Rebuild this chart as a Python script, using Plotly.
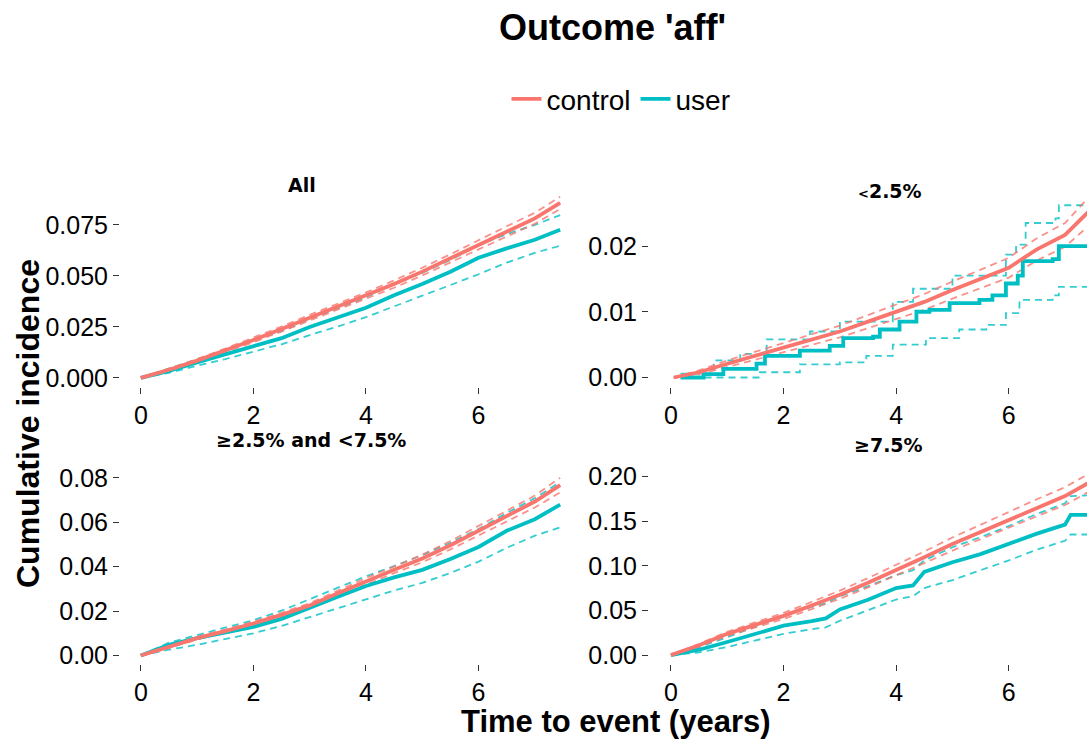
import plotly.graph_objects as go

W, H = 1087, 740

# ---------------- data ----------------
panel_titles = ["All", "<span style='font-size:13px'>&lt;</span>2.5%", "≥2.5% and &lt;7.5%", "≥7.5%"]
group_names = ["control", "user"]
x_tickvals = [0, 2, 4, 6]
x_ticktext = ["0", "2", "4", "6"]

# Panel "All"
t_all = [0, 0.5, 1, 1.5, 2, 2.5, 3, 3.5, 4, 4.5, 5, 5.5, 6, 6.5, 7, 7.45]
all_control = [0, 0.0040, 0.0085, 0.0135, 0.0186, 0.0240, 0.0295, 0.0349, 0.0403, 0.0460, 0.0521, 0.0585, 0.0653, 0.0718, 0.0782, 0.0858]
all_control_lo = [0, 0.0035, 0.0078, 0.0126, 0.0175, 0.0228, 0.0281, 0.0334, 0.0387, 0.0442, 0.0502, 0.0564, 0.0630, 0.0693, 0.0755, 0.0828]
all_control_hi = [0, 0.0045, 0.0092, 0.0144, 0.0197, 0.0252, 0.0309, 0.0364, 0.0419, 0.0478, 0.0540, 0.0606, 0.0676, 0.0743, 0.0809, 0.0888]
all_user = [0, 0.0035, 0.0076, 0.0115, 0.0156, 0.0195, 0.0250, 0.0297, 0.0344, 0.0405, 0.0460, 0.0520, 0.0589, 0.0635, 0.0677, 0.0726]
all_user_lo = [0, 0.0025, 0.0060, 0.0092, 0.0129, 0.0165, 0.0210, 0.0252, 0.0298, 0.0352, 0.0403, 0.0455, 0.0508, 0.0565, 0.0613, 0.0648]
all_user_hi = [0, 0.0045, 0.0092, 0.0138, 0.0186, 0.0228, 0.0288, 0.0341, 0.0395, 0.0460, 0.0515, 0.0578, 0.0650, 0.0705, 0.0750, 0.0798]
all_yticks = [0, 0.025, 0.05, 0.075]
all_yticktext = ["0.000", "0.025", "0.050", "0.075"]

# Panel "<2.5%"
t_lt25_control = [0.05, 0.5, 1, 1.5, 2, 2.5, 3, 3.5, 4, 4.5, 5, 5.5, 6, 6.5, 7, 7.45]
lt25_control = [0, 0.0008, 0.0021, 0.0033, 0.0046, 0.0058, 0.0070, 0.0085, 0.0100, 0.0115, 0.0133, 0.0150, 0.0167, 0.0195, 0.0217, 0.0255]
lt25_control_lo = [0, 0.0005, 0.0016, 0.0027, 0.0039, 0.0050, 0.0061, 0.0075, 0.0089, 0.0103, 0.0120, 0.0136, 0.0152, 0.0178, 0.0199, 0.0233]
lt25_control_hi = [0, 0.0011, 0.0026, 0.0039, 0.0053, 0.0066, 0.0079, 0.0095, 0.0111, 0.0127, 0.0146, 0.0164, 0.0182, 0.0212, 0.0235, 0.0277]
t_lt25_user = [0.17, 0.58, 0.93, 1.52, 1.67, 2.29, 2.82, 3.06, 3.59, 3.71, 4.06, 4.36, 4.59, 4.95, 5.48, 5.71, 5.95, 6.16, 6.25, 6.78, 6.89, 7.45]
lt25_user = [0, 0.0005, 0.0013, 0.0021, 0.0033, 0.0041, 0.0048, 0.0060, 0.0062, 0.0073, 0.0085, 0.0100, 0.0103, 0.0113, 0.0118, 0.0125, 0.0143, 0.0155, 0.0177, 0.0180, 0.0200, 0.0200]
t_lt25_user_hi = [0.17, 0.76, 1.23, 1.70, 2.47, 3.0, 3.94, 4.3, 5.0, 5.95, 6.13, 6.30, 6.83, 6.89, 7.45]
lt25_user_hi = [0.0006, 0.0026, 0.0036, 0.0058, 0.0070, 0.0085, 0.0115, 0.0135, 0.0155, 0.0187, 0.0202, 0.0235, 0.0242, 0.0262, 0.0262]
t_lt25_user_lo = [0.17, 1.58, 2.29, 3.0, 3.47, 3.94, 4.53, 5.12, 5.6, 5.95, 6.19, 6.78, 6.89, 7.45]
lt25_user_lo = [0, 0.0008, 0.0020, 0.0023, 0.0033, 0.0050, 0.0060, 0.0073, 0.0080, 0.0098, 0.0118, 0.0125, 0.0138, 0.0138]
lt25_yticks = [0, 0.01, 0.02]
lt25_yticktext = ["0.00", "0.01", "0.02"]

# Panel ">=2.5% and <7.5%"
t_mid = [0, 0.5, 1, 1.5, 2, 2.5, 3, 3.5, 4, 4.5, 5, 5.5, 6, 6.5, 7, 7.45]
mid_control = [0, 0.0038, 0.0078, 0.0110, 0.0144, 0.0183, 0.0225, 0.0280, 0.0335, 0.0386, 0.0437, 0.0497, 0.0562, 0.0628, 0.0694, 0.0768]
mid_control_lo = [0, 0.0034, 0.0072, 0.0103, 0.0136, 0.0174, 0.0214, 0.0268, 0.0321, 0.0371, 0.0420, 0.0478, 0.0541, 0.0604, 0.0667, 0.0735]
mid_control_hi = [0, 0.0042, 0.0084, 0.0117, 0.0152, 0.0192, 0.0236, 0.0292, 0.0349, 0.0401, 0.0454, 0.0516, 0.0583, 0.0652, 0.0721, 0.0801]
mid_user = [0, 0.0048, 0.0078, 0.0103, 0.0129, 0.0165, 0.0217, 0.0265, 0.0313, 0.0352, 0.0386, 0.0435, 0.0489, 0.0562, 0.0614, 0.0680]
mid_user_lo = [0, 0.0026, 0.0048, 0.0073, 0.0100, 0.0133, 0.0173, 0.0213, 0.0254, 0.0293, 0.0327, 0.0372, 0.0423, 0.0485, 0.0540, 0.0577]
mid_user_hi = [0, 0.0058, 0.0092, 0.0125, 0.0159, 0.0202, 0.0254, 0.0306, 0.0357, 0.0403, 0.0452, 0.0508, 0.0570, 0.0642, 0.0709, 0.0782]
mid_yticks = [0, 0.02, 0.04, 0.06, 0.08]
mid_yticktext = ["0.00", "0.02", "0.04", "0.06", "0.08"]

# Panel ">=7.5%"
t_ge75_control = [0, 0.5, 1, 1.5, 2, 2.5, 3, 3.5, 4, 4.5, 5, 5.5, 6, 6.5, 7, 7.45]
ge75_control = [0, 0.0110, 0.0238, 0.0338, 0.0439, 0.0555, 0.0676, 0.0810, 0.0950, 0.1095, 0.1243, 0.1380, 0.1517, 0.1650, 0.1780, 0.1940]
ge75_control_lo = [0, 0.0095, 0.0215, 0.0310, 0.0405, 0.0515, 0.0630, 0.0758, 0.0890, 0.1030, 0.1170, 0.1300, 0.1430, 0.1555, 0.1680, 0.1840]
ge75_control_hi = [0, 0.0125, 0.0260, 0.0366, 0.0473, 0.0595, 0.0722, 0.0862, 0.1010, 0.1160, 0.1316, 0.1460, 0.1604, 0.1745, 0.1880, 0.2040]
t_ge75_user = [0, 0.5, 1, 1.5, 2, 2.5, 2.75, 3, 3.5, 4, 4.3, 4.5, 5, 5.5, 6, 6.5, 7, 7.1, 7.45]
ge75_user = [0, 0.0060, 0.0146, 0.0235, 0.0329, 0.0380, 0.0410, 0.0512, 0.0620, 0.0750, 0.0780, 0.0932, 0.1040, 0.1130, 0.1243, 0.1360, 0.1460, 0.1570, 0.1570]
ge75_user_lo = [0, 0.0030, 0.0090, 0.0160, 0.0238, 0.0290, 0.0310, 0.0384, 0.0500, 0.0622, 0.0660, 0.0750, 0.0840, 0.0950, 0.1060, 0.1180, 0.1280, 0.1350, 0.1350]
ge75_user_hi = [0, 0.0090, 0.0200, 0.0320, 0.0439, 0.0540, 0.0580, 0.0658, 0.0770, 0.0896, 0.0950, 0.1060, 0.1207, 0.1320, 0.1444, 0.1580, 0.1700, 0.1780, 0.1790]
ge75_yticks = [0, 0.05, 0.10, 0.15, 0.20]
ge75_yticktext = ["0.00", "0.05", "0.10", "0.15", "0.20"]

# ---------------- styling ----------------
RED = "#F8766D"
CYAN = "#00BFC4"
RED_CI = "rgba(248,118,109,0.8)"
CYAN_CI = "rgba(0,191,196,0.8)"
FONT = "Liberation Sans, Arial, sans-serif"


def px_x(p):
    return p / W


def px_y(p):
    return 1 - p / H


left_dom = [px_x(120), px_x(581)]
right_dom = [px_x(649), 1.0]
top_dom = [px_y(385), px_y(188)]
bot_dom = [px_y(668), px_y(471)]

# each series: (t_est, est, t_lo, lo, t_hi, hi, line shape)
panels = [
    ("", left_dom, top_dom, [-0.37, 7.82], [-0.0043, 0.0904], all_yticks, all_yticktext,
     [(t_all, all_control, t_all, all_control_lo, t_all, all_control_hi, "linear"),
      (t_all, all_user, t_all, all_user_lo, t_all, all_user_hi, "linear")]),
    ("2", right_dom, top_dom, [-0.39, 7.39], [-0.0014, 0.0280], lt25_yticks, lt25_yticktext,
     [(t_lt25_control, lt25_control, t_lt25_control, lt25_control_lo, t_lt25_control, lt25_control_hi, "linear"),
      (t_lt25_user, lt25_user, t_lt25_user_lo, lt25_user_lo, t_lt25_user_hi, lt25_user_hi, "hv")]),
    ("3", left_dom, bot_dom, [-0.37, 7.82], [-0.0040, 0.0831], mid_yticks, mid_yticktext,
     [(t_mid, mid_control, t_mid, mid_control_lo, t_mid, mid_control_hi, "linear"),
      (t_mid, mid_user, t_mid, mid_user_lo, t_mid, mid_user_hi, "linear")]),
    ("4", right_dom, bot_dom, [-0.39, 7.39], [-0.0104, 0.206], ge75_yticks, ge75_yticktext,
     [(t_ge75_control, ge75_control, t_ge75_control, ge75_control_lo, t_ge75_control, ge75_control_hi, "linear"),
      (t_ge75_user, ge75_user, t_ge75_user, ge75_user_lo, t_ge75_user, ge75_user_hi, "linear")]),
]

fig = go.Figure()
layout = {}
colors = [RED, CYAN]
ci_colors = [RED_CI, CYAN_CI]

for pi, (suf, xd, yd, xr, yr, ytv, ytt, series) in enumerate(panels):
    xa = "x" + suf
    ya = "y" + suf
    for gi in [1, 0]:
        t_e, est, t_l, lo, t_h, hi, shape = series[gi]
        for tb, band in ((t_l, lo), (t_h, hi)):
            fig.add_trace(go.Scatter(
                x=tb, y=band, xaxis=xa, yaxis=ya, mode="lines",
                line=dict(color=ci_colors[gi], width=1.8, dash="7px,5px", shape=shape),
                showlegend=False, hoverinfo="skip"))
    for gi in [1, 0]:
        t_e, est, t_l, lo, t_h, hi, shape = series[gi]
        fig.add_trace(go.Scatter(
            x=t_e, y=est, xaxis=xa, yaxis=ya, mode="lines",
            line=dict(color=colors[gi], width=3.8, shape=shape),
            name=group_names[gi], legendgroup=group_names[gi],
            showlegend=(pi == 0), legendrank=gi + 1))
    axis_common = dict(showgrid=False, zeroline=False, showline=False,
                       ticks="outside", ticklen=6, tickwidth=1.2, tickcolor="#333333",
                       tickfont=dict(family=FONT, size=25, color="#000000"))
    layout["xaxis" + suf] = dict(domain=xd, range=xr, anchor=ya, tickvals=x_tickvals,
                                 ticktext=x_ticktext, **axis_common)
    layout["yaxis" + suf] = dict(domain=yd, range=yr, anchor=xa, tickvals=ytv,
                                 ticktext=ytt, **axis_common)

annotations = [
    dict(text="Outcome 'aff'", x=px_x(612), y=px_y(19), xref="paper", yref="paper",
         showarrow=False, xanchor="center", yanchor="middle",
         font=dict(family=FONT, size=36, color="#000000", weight="bold")),
    dict(text="Time to event (years)", x=px_x(616), y=px_y(726), xref="paper", yref="paper",
         showarrow=False, xanchor="center", yanchor="middle",
         font=dict(family=FONT, size=31, color="#000000", weight="bold")),
    dict(text="Cumulative incidence", x=px_x(28), y=px_y(423), xref="paper", yref="paper",
         showarrow=False, xanchor="center", yanchor="middle", textangle=-90,
         font=dict(family=FONT, size=32, color="#000000", weight="bold")),
]
strip_pos = [(302, 179), (890, 186), (311, 439), (888, 444)]
for title, (sx, sy) in zip(panel_titles, strip_pos):
    annotations.append(dict(text="<b>" + title + "</b>", x=px_x(sx), y=px_y(sy),
                            xref="paper", yref="paper", showarrow=False,
                            xanchor="center", yanchor="middle",
                            font=dict(family="DejaVu Sans, sans-serif", size=19, color="#000000")))

fig.update_layout(
    width=W, height=H,
    margin=dict(l=0, r=0, t=0, b=0),
    paper_bgcolor="white", plot_bgcolor="white",
    showlegend=True,
    legend=dict(orientation="h", x=px_x(621), y=px_y(92), xanchor="center", yanchor="middle",
                font=dict(family=FONT, size=28, color="#000000"), itemwidth=30,
                bgcolor="rgba(0,0,0,0)", traceorder="normal"),
    annotations=annotations,
    **layout,
)

fig.write_html("out.html")
